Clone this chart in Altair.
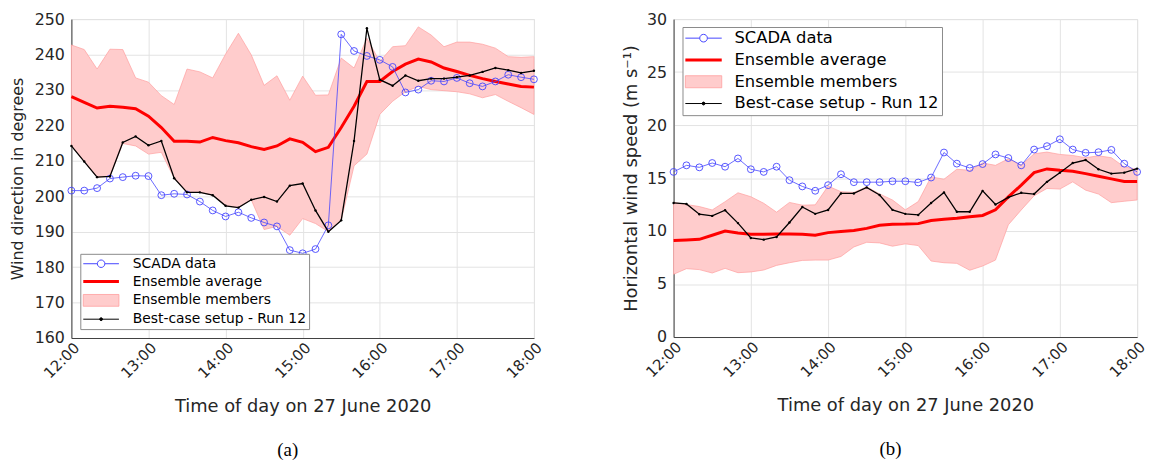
import altair as alt
import pandas as pd

# ---------------- data ----------------
times = ["12:00", "12:10", "12:20", "12:30", "12:40", "12:50",
         "13:00", "13:10", "13:20", "13:30", "13:40", "13:50",
         "14:00", "14:10", "14:20", "14:30", "14:40", "14:50",
         "15:00", "15:10", "15:20", "15:30", "15:40", "15:50",
         "16:00", "16:10", "16:20", "16:30", "16:40", "16:50",
         "17:00", "17:10", "17:20", "17:30", "17:40", "17:50", "18:00"]

# panel (a): wind direction (degrees)
scada_dir = [201.6, 201.6, 202.3, 205.0, 205.4, 205.8, 205.7, 200.3, 200.7, 200.5, 198.5, 196.0,
             194.3, 195.5, 193.9, 192.6, 191.5, 184.8, 183.9, 185.1, 191.8, 245.7, 241.0, 239.6,
             238.5, 236.5, 229.3, 230.1, 232.6, 232.4, 233.4, 231.9, 231.0, 232.4, 234.3, 233.6, 233.0]
avg_dir = [228.1, 226.5, 224.9, 225.4, 225.1, 224.7, 222.6, 219.4, 215.5, 215.5, 215.3, 216.6,
           215.7, 215.1, 214.0, 213.2, 214.2, 216.2, 215.2, 212.6, 213.8, 219.4, 225.4, 232.4,
           232.4, 235.2, 237.3, 238.7, 237.9, 236.2, 235.2, 234.1, 233.2, 232.4, 231.7, 231.0, 230.8]
best_dir = [214.2, 209.8, 205.4, 205.6, 215.2, 216.9, 214.4, 215.6, 205.1, 201.1, 201.1, 200.3,
            197.3, 196.8, 199.0, 199.8, 198.5, 203.0, 203.6, 196.0, 190.0, 193.2, 215.6, 247.4,
            232.9, 231.2, 234.1, 232.6, 233.2, 233.2, 233.6, 234.1, 235.1, 236.2, 235.6, 234.8, 235.4]
hi_dir = [242.7, 241.4, 235.9, 241.5, 241.4, 233.4, 232.2, 228.4, 225.9, 235.9, 235.1, 233.4,
          240.1, 246.0, 239.9, 231.3, 234.0, 227.1, 233.9, 228.5, 228.6, 239.0, 236.2, 244.6,
          238.0, 242.2, 242.5, 247.8, 245.5, 242.2, 243.5, 243.5, 242.9, 241.8, 239.4, 239.2, 239.4]
lo_dir = [214.2, 209.8, 205.4, 205.6, 214.9, 214.2, 211.9, 212.4, 205.1, 201.1, 201.1, 200.3,
          197.3, 196.8, 199.0, 190.6, 191.5, 189.0, 193.7, 192.3, 190.0, 193.2, 208.6, 211.9,
          223.1, 226.8, 229.5, 231.0, 230.1, 229.8, 229.5, 228.9, 227.8, 228.7, 226.8, 225.0, 223.1]

# panel (b): horizontal wind speed (m/s)
scada_ws = [15.58, 16.20, 16.01, 16.42, 16.07, 16.85, 15.83, 15.58, 16.07, 14.80, 14.21, 13.80,
            14.33, 15.36, 14.61, 14.61, 14.61, 14.70, 14.70, 14.58, 15.05, 17.41, 16.36, 15.95,
            16.32, 17.23, 16.89, 16.20, 17.69, 18.01, 18.66, 17.69, 17.38, 17.44, 17.66, 16.36, 15.58]
avg_ws = [9.10, 9.15, 9.22, 9.60, 10.00, 9.81, 9.70, 9.70, 9.73, 9.73, 9.70, 9.60,
          9.85, 9.95, 10.05, 10.25, 10.55, 10.65, 10.66, 10.70, 11.00, 11.12, 11.20, 11.34,
          11.47, 12.00, 13.22, 14.33, 15.51, 15.86, 15.73, 15.64, 15.42, 15.17, 14.92, 14.67, 14.67]
best_ws = [12.65, 12.56, 11.59, 11.43, 11.96, 10.75, 9.35, 9.19, 9.44, 10.81, 12.27, 11.62,
           11.99, 13.55, 13.55, 14.12, 13.40, 12.00, 11.62, 11.52, 12.65, 13.64, 11.82, 11.82,
           13.79, 12.51, 13.18, 13.61, 13.49, 14.64, 15.51, 16.42, 16.70, 15.83, 15.42, 15.51, 15.89]
hi_ws = [12.70, 12.50, 12.31, 11.99, 12.77, 13.61, 13.24, 12.62, 11.78, 12.70, 12.44, 12.47,
         14.24, 13.71, 13.65, 14.18, 13.50, 12.93, 12.00, 12.78, 15.11, 14.89, 15.83, 15.73,
         16.42, 16.20, 16.82, 16.20, 17.29, 17.45, 17.23, 17.13, 16.92, 17.10, 16.92, 16.05, 15.83]
lo_ws = [5.92, 6.45, 6.36, 6.04, 6.48, 6.07, 6.14, 6.32, 6.76, 7.01, 7.23, 7.26,
         7.26, 7.60, 8.50, 8.94, 8.88, 8.57, 8.79, 8.63, 7.17, 7.01, 6.95, 6.30,
         6.70, 7.26, 10.59, 11.99, 13.33, 14.02, 13.96, 14.64, 13.86, 13.49, 12.68, 12.81, 12.93]

dir_ticks = [160, 170, 180, 190, 200, 210, 220, 230, 240, 250]
ws_ticks = [0, 5, 10, 15, 20, 25, 30]
tick_hours = [12, 13, 14, 15, 16, 17, 18]

series_names = ["SCADA data", "Ensemble average", "Ensemble members", "Best-case setup - Run 12"]
legend_paths = [
    "M-1,0H-0.21M0.21,0H1M0.21,0A0.21,0.21,0,1,1,-0.21,0A0.21,0.21,0,1,1,0.21,0",
    "M-1,0H1",
    "M-1,-0.33H1V0.33H-1Z",
    "M-1,0H1M0.08,0A0.08,0.08,0,1,1,-0.08,0A0.08,0.08,0,1,1,0.08,0",
]
legend_fills = ["white", "transparent", "#ffcccc", "black"]
legend_strokes = ["#4444ff", "#ff0000", "#ff9e9e", "#000000"]
legend_widths = [1, 3, 0.8, 1]

# ---------------- styling ----------------
BLUE = "#4444ff"
RED = "#ff0000"
PINK = "#ffcccc"
PINK_EDGE = "#ff9e9e"
FONT = "DejaVu Sans"


def ternary(values):
    last = values[-1]
    expr = "'" + last + "'" if isinstance(last, str) else str(last)
    for name, v in reversed(list(zip(series_names[:-1], values[:-1]))):
        val = "'" + v + "'" if isinstance(v, str) else str(v)
        expr = "datum.value == '" + name + "' ? " + val + " : (" + expr + ")"
    return expr


def stamp(t):
    return "2020-06-27T" + t + ":00"


def dt(h):
    return alt.DateTime(year=2020, month=6, date=27, hours=h)


def make_panel(scada, avg, best, lo, hi, y_title, y_ticks, y_domain, y_title_size,
               y_title_pad, leg_x, leg_y, leg_font, leg_row_pad, leg_size, leg_sym_off,
               leg_lab_off, caption, width, height):
    df = pd.DataFrame({
        "time": [stamp(t) for t in times],
        "scada": scada, "avg": avg, "best": best, "lo": lo, "hi": hi,
        "series": [series_names[0]] * len(times),
    })
    x_axis = alt.Axis(values=[dt(h) for h in tick_hours], format="%H:%M", labelAngle=315,
                      labelAlign="right", labelBaseline="middle", labelFont=FONT,
                      labelFontSize=15, labelColor="#262626", labelPadding=7, labelOffset=5,
                      labelFlush=False, labelOverlap=False, ticks=False,
                      domainColor="#404040", gridColor="#e3e3e3",
                      title="Time of day on 27 June 2020", titleFont=FONT, titleFontSize=18,
                      titleFontWeight="normal", titleColor="#262626", titlePadding=17)
    y_axis = alt.Axis(values=y_ticks, labelFont=FONT, labelFontSize=16, labelColor="#262626",
                      labelPadding=7, labelFlush=False, ticks=False, domainColor="#404040",
                      gridColor="#e3e3e3", title=y_title, titleFont=FONT,
                      titleFontSize=y_title_size, titleFontWeight="normal",
                      titleColor="#262626", titlePadding=y_title_pad)
    xs = alt.Scale(domain=[dt(12), dt(18)])
    ys = alt.Scale(domain=y_domain, nice=False, zero=False)

    def X():
        return alt.X("time:T", scale=xs, axis=x_axis, title="Time of day on 27 June 2020")

    def Y(f):
        return alt.Y(f + ":Q", scale=ys, axis=y_axis, title=y_title)

    base = alt.Chart(df)
    band = base.mark_area(fill=PINK, stroke=PINK_EDGE, strokeWidth=0.7).encode(
        x=X(), y=Y("lo"), y2="hi:Q")
    mean_line = base.mark_line(color=RED, strokeWidth=3).encode(x=X(), y=Y("avg"))
    scada_line = base.mark_line(
        color=BLUE, strokeWidth=0.8,
        point=alt.OverlayMarkDef(filled=False, shape="circle", size=48, color=BLUE,
                                 strokeWidth=0.9, opacity=1)
    ).encode(x=X(), y=Y("scada"))
    best_line = base.mark_line(
        color="black", strokeWidth=1.3,
        point=alt.OverlayMarkDef(filled=True, shape="circle", size=6, color="black", opacity=1)
    ).encode(x=X(), y=Y("best"))

    lg = alt.Legend(
        title=None, orient="none", legendX=leg_x, legendY=leg_y, direction="vertical",
        symbolSize=leg_size, symbolOpacity=1, symbolFillColor="white",
        symbolOffset=leg_sym_off,
        symbolStrokeColor={"expr": ternary(legend_strokes)},
        symbolStrokeWidth={"expr": ternary(legend_widths)},
        labelFont=FONT, labelFontSize=leg_font, labelColor="black", labelOffset=leg_lab_off,
        labelLimit=500, rowPadding=leg_row_pad, padding=3, strokeColor="#8a8a8a",
        fillColor="white", cornerRadius=0)
    legend_layer = base.transform_filter("false").mark_point(filled=True, opacity=1).encode(
        x=X(), y=Y("scada"),
        color=alt.Color("series:N", scale=alt.Scale(domain=series_names, range=legend_fills),
                        legend=lg),
        shape=alt.Shape("series:N", scale=alt.Scale(domain=series_names, range=legend_paths),
                        legend=lg),
    )
    return alt.layer(band, mean_line, scada_line, best_line, legend_layer).properties(
        width=width, height=height,
        title=alt.TitleParams(text=caption, orient="bottom", anchor="middle", frame="group",
                              dx=-15, offset=26, font="Liberation Serif", fontSize=19,
                              fontWeight="normal", color="black"),
    )


panel_a = make_panel(scada_dir, avg_dir, best_dir, lo_dir, hi_dir,
                     "Wind direction in degrees", dir_ticks, [160, 250], 16, 9,
                     9, 237, 14, 4, 1296, 11, 25, "(a)", 467, 322)
panel_b = make_panel(scada_ws, avg_ws, best_ws, lo_ws, hi_ws,
                     "Horizontal wind speed (m s\u207b\u00b9)", ws_ticks, [0, 30], 18, 6,
                     9, 8, 16.5, 5, 1350, 10, 23, "(b)", 468, 321)

chart = alt.hconcat(panel_a, panel_b, spacing=77).resolve_scale(
    color="independent", shape="independent"
).properties(padding=0).configure_view(stroke="transparent").configure_legend(
    strokeColor="#8a8a8a", fillColor="white", cornerRadius=0
).configure(background="white")

chart.save("out.html", embed_options={"renderer": "svg", "actions": False})
